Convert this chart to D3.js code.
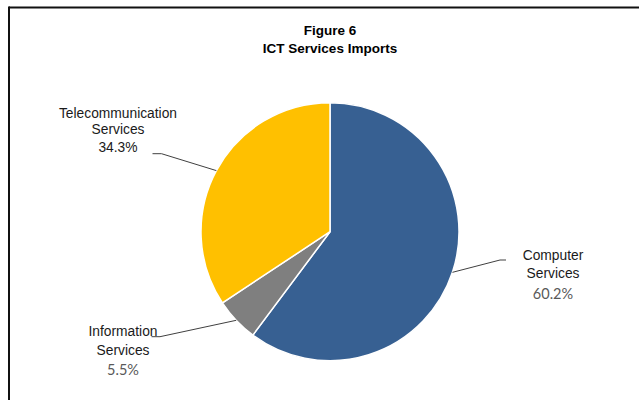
<!DOCTYPE html>
<html>
<head>
<meta charset="utf-8">
<script src="https://cdn.jsdelivr.net/npm/d3@7"></script>
<style>
  html, body { margin: 0; padding: 0; background: #fff; }
  svg { display: block; }
</style>
</head>
<body>
<svg id="chart" width="639" height="400"></svg>
<script>
// ---- data ----
const titleLines = ["Figure 6", "ICT Services Imports"];
const categories = ["Computer Services", "Information Services", "Telecommunication Services"];
const labelNames = [["Computer", "Services"], ["Information", "Services"], ["Telecommunication", "Services"]];
const values = [60.2, 5.5, 34.3];
const valueLabels = ["60.2%", "5.5%", "34.3%"];

// ---- styles / layout ----
const colors = ["#376092", "#7f7f7f", "#ffc000"];
const W = 639, H = 400;
const cx = 330, cy = 231.7, R = 129;
// label layout: center x, line center ys, elbow point, horizontal end x, percent style
const labelLayout = [
  { x: 553, ys: [255, 273.5, 293.5], elbow: [500, 260], endX: 506, pctCalibri: true },
  { x: 123, ys: [331.5, 350, 370], elbow: [160, 336.7], endX: 151.5, pctCalibri: true },
  { x: 118, ys: [112.7, 129.5, 146.7], elbow: [161.5, 153.7], endX: 152.5, pctCalibri: false }
];

const svg = d3.select("#chart");

// border (top and left visible)
svg.append("line").attr("x1", 9).attr("y1", 7.5).attr("x2", 639).attr("y2", 7.5)
  .attr("stroke", "#111").attr("stroke-width", 2);
svg.append("line").attr("x1", 9).attr("y1", 6.5).attr("x2", 9).attr("y2", 400)
  .attr("stroke", "#111").attr("stroke-width", 2);

// title
svg.append("g").selectAll("text").data(titleLines).join("text")
  .attr("x", cx)
  .attr("y", (d, i) => 30 + i * 18)
  .attr("dy", "0.35em")
  .attr("text-anchor", "middle")
  .attr("font-family", "Liberation Sans, Arial, sans-serif")
  .attr("font-weight", "bold")
  .attr("font-size", "13.5px")
  .attr("fill", "#000")
  .text(d => d);

// pie
const pie = d3.pie().sort(null).value(d => d)(values);
const arc = d3.arc().innerRadius(0).outerRadius(R);

const g = svg.append("g").attr("transform", `translate(${cx},${cy})`);
g.selectAll("path").data(pie).join("path")
  .attr("d", arc)
  .attr("fill", (d, i) => colors[i])
  .attr("stroke", "#fff")
  .attr("stroke-width", 1.5);

// leader lines
pie.forEach((d, i) => {
  const a = (d.startAngle + d.endAngle) / 2;
  const px = cx + R * Math.sin(a);
  const py = cy - R * Math.cos(a);
  const L = labelLayout[i];
  svg.append("polyline")
    .attr("points", `${px},${py} ${L.elbow[0]},${L.elbow[1]} ${L.endX},${L.elbow[1]}`)
    .attr("fill", "none")
    .attr("stroke", "#404040")
    .attr("stroke-width", 1);
});

// labels
pie.forEach((d, i) => {
  const L = labelLayout[i];
  const lines = labelNames[i];
  lines.forEach((t, j) => {
    svg.append("text")
      .attr("x", L.x).attr("y", L.ys[j]).attr("dy", "0.35em")
      .attr("text-anchor", "middle")
      .attr("font-family", "Liberation Sans, Arial, sans-serif")
      .attr("font-size", "13.8px")
      .attr("fill", "#1a1a1a")
      .text(t);
  });
  svg.append("text")
    .attr("x", L.x).attr("y", L.ys[2]).attr("dy", "0.35em")
    .attr("text-anchor", "middle")
    .attr("font-family", L.pctCalibri ? "Lato, Open Sans, sans-serif" : "Liberation Sans, Arial, sans-serif")
    .attr("font-size", L.pctCalibri ? "14.5px" : "13.8px")
    .attr("fill", L.pctCalibri ? "#595959" : "#1a1a1a")
    .text(valueLabels[i]);
});
</script>
</body>
</html>
